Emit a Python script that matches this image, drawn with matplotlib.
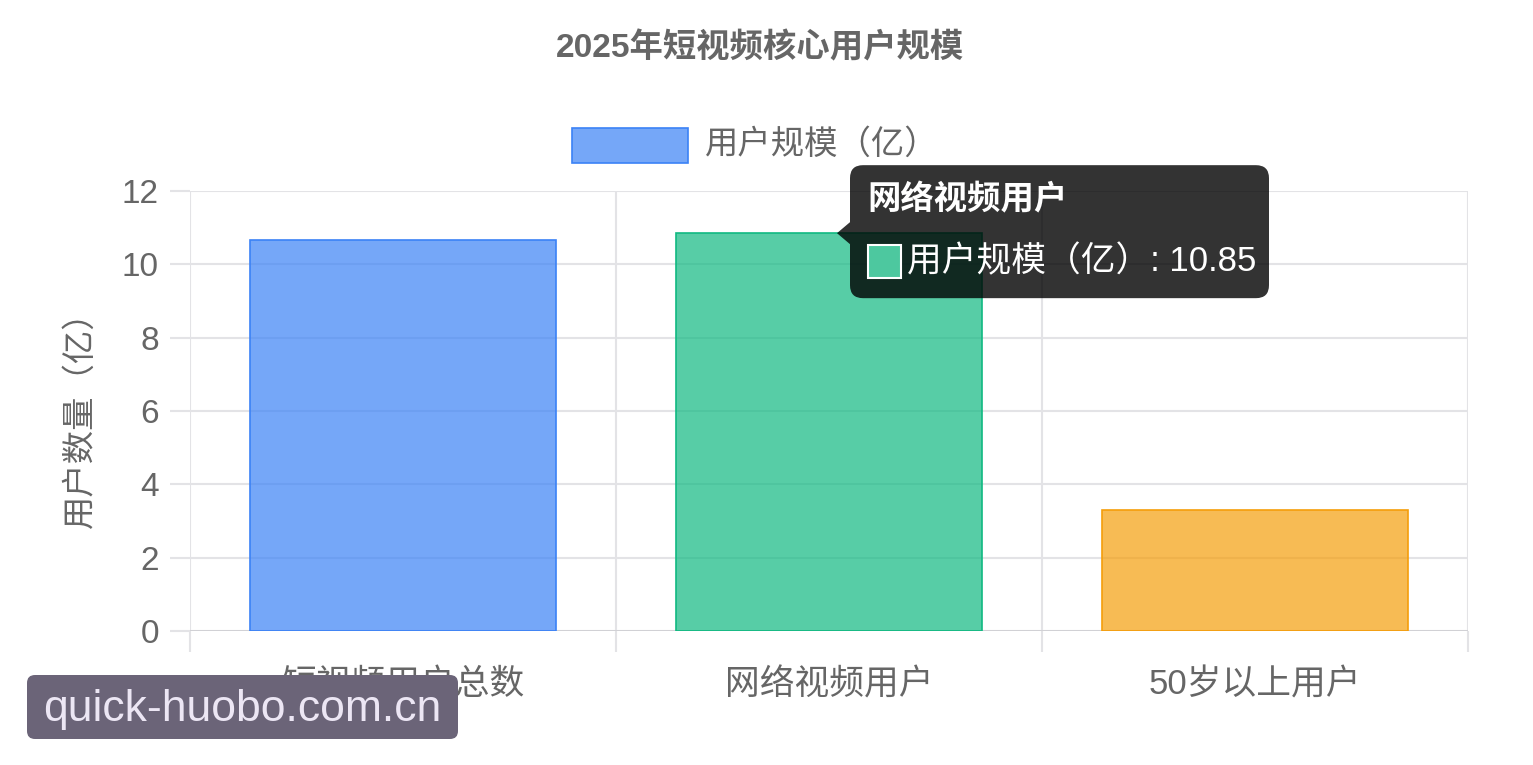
import matplotlib
matplotlib.use('Agg')
import matplotlib.pyplot as plt
from matplotlib import font_manager
from matplotlib.patches import FancyBboxPatch, Rectangle, Polygon
from matplotlib.transforms import IdentityTransform

plt.rcParams['font.family'] = ['Liberation Sans', 'Noto Sans CJK SC', 'DejaVu Sans']

# 数据
categories = ['短视频用户总数', '网络视频用户', '50岁以上用户']
values = [10.66, 10.85, 3.29]
series_name = '用户规模（亿）'
title = '2025年短视频核心用户规模'
ylabel = '用户数量（亿）'
yticks = [0, 2, 4, 6, 8, 10, 12]
hover_index = 1
watermark = 'quick-huobo.com.cn'

fill_colors = [(59/255, 130/255, 246/255, 0.7), (16/255, 185/255, 129/255, 0.7), (245/255, 158/255, 11/255, 0.7)]
edge_colors = ['#3B82F6', '#10B981', '#F59E0B']

W, H = 1533, 765
fig = plt.figure(figsize=(W / 100, H / 100), dpi=100)
fig.patch.set_facecolor('white')

# 像素 -> 图坐标（从上往下量）
def px(x, y):
    return x, H - y

ax = fig.add_axes([190 / W, 1 - 631 / H, (1468 - 190) / W, (631 - 191) / H])
grid_c = '#E3E3E6'
text_c = '#666666'

x = list(range(len(categories)))
ax.bar(x, values, width=0.72, color=fill_colors, edgecolor=edge_colors, linewidth=1.2, zorder=3)

ax.set_xlim(-0.5, len(categories) - 0.5)
ax.set_ylim(0, 12)
for s in ax.spines.values():
    s.set_visible(False)

ax.set_yticks(yticks)
ax.set_yticklabels([str(t) for t in yticks])
ax.set_xticks(x)
ax.set_xticklabels(categories)
ax.set_xticks([i - 0.5 for i in range(len(categories) + 1)], minor=True)

ax.grid(True, axis='y', which='major', color=grid_c, linewidth=1.5, zorder=0)
ax.grid(True, axis='x', which='minor', color=grid_c, linewidth=1.5, zorder=0)
ax.axhline(0, color='#CFCFD3', linewidth=2, zorder=2)

ax.tick_params(axis='y', which='major', length=14.4, width=1.5, color=grid_c, pad=8,
               labelsize=24, labelcolor=text_c)
ax.tick_params(axis='x', which='major', length=0, pad=27, labelsize=25, labelcolor=text_c)
ax.tick_params(axis='x', which='minor', length=15, width=1.5, color=grid_c)

ax.set_ylabel(ylabel, fontsize=24, color=text_c, labelpad=18)

# 标题
fig.text(760 / W, 1 - 48 / H, title, ha='center', va='center', fontsize=24,
         fontweight='bold', color=text_c)

# 图例
idt = IdentityTransform()
lx0, ly0 = px(572, 163)
fig.patches.append(Rectangle((lx0, ly0), 116, 35, transform=idt, facecolor=fill_colors[0],
                             edgecolor=edge_colors[0], linewidth=1.2))
fig.text(705 / W, 1 - 145 / H, series_name, ha='left', va='center', fontsize=24,
         color=text_c)

# 提示框（指向悬停的柱子）
fig.canvas.draw()
tipx, tipy = ax.transData.transform((hover_index, values[hover_index]))
tipx += 8
bx0, bx1 = tipx + 13, tipx + 432
by_top, by_bot = tipy + 68, tipy - 65
tip_bg = (0, 0, 0, 0.8)
box = FancyBboxPatch((bx0, by_bot), bx1 - bx0, by_top - by_bot,
                     boxstyle='round,pad=0,rounding_size=13', transform=idt,
                     facecolor=tip_bg, edgecolor='none', zorder=10)
fig.patches.append(box)
caret = Polygon([(tipx, tipy), (bx0, tipy + 11), (bx0, tipy - 11)], closed=True,
                transform=idt, facecolor=tip_bg, edgecolor='none', zorder=10)
fig.patches.append(caret)
fig.text(bx0 + 17, by_top - 35, categories[hover_index], transform=idt, ha='left', va='center',
         fontsize=24, fontweight='bold', color='white', zorder=11)
fig.patches.append(Rectangle((bx0 + 18, tipy - 45), 33, 33, transform=idt,
                             facecolor='#4DC89F', edgecolor='white', linewidth=1.5, zorder=11))
fig.text(bx0 + 57, tipy - 28, f'{series_name}: {values[hover_index]:.2f}', transform=idt,
         ha='left', va='center', fontsize=25, color='white', zorder=11)

# 水印
wx0, wy0 = px(27, 739)
fig.patches.append(FancyBboxPatch((wx0, wy0), 431, 64, boxstyle='round,pad=0,rounding_size=8',
                                  transform=idt, facecolor='#6B6478', edgecolor='none', zorder=12))
wm_font = 'Liberation Sans Narrow' if any(f.name == 'Liberation Sans Narrow' for f in font_manager.fontManager.ttflist) else 'Liberation Sans'
fig.text(242 / W, 1 - 710 / H, watermark, ha='center', va='center', fontsize=32,
         color='#ECE6F4', family=wm_font, zorder=13)

fig.savefig('out.png', dpi=100)
